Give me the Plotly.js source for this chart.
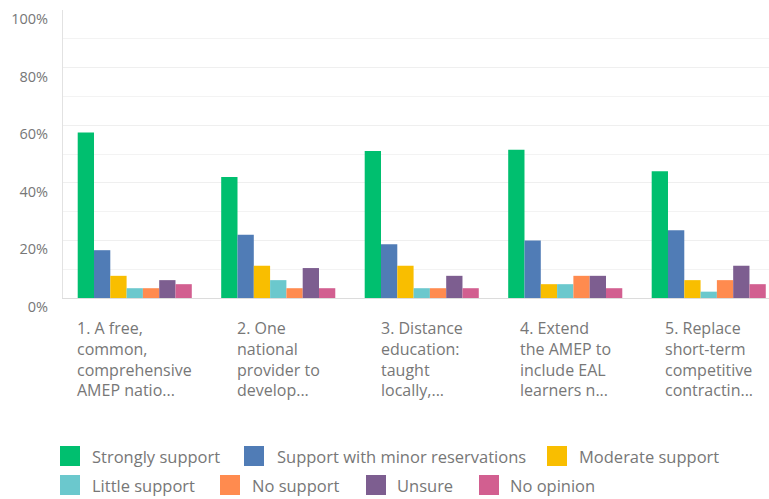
<!DOCTYPE html>
<html>
<head>
<meta charset="utf-8">
<script src="https://cdn.plot.ly/plotly-3.0.1.min.js"></script>
<style>html,body{margin:0;padding:0;background:#fff;}#chart{width:769px;height:499px;}</style>
</head>
<body>
<div id="chart"></div>
<script>
// ---- data ----
const categories = [
  "1. A free,<br>common,<br>comprehensive<br>AMEP natio...",
  "2. One<br>national<br>provider to<br>develop...",
  "3. Distance<br>education:<br>taught<br>locally,...",
  "4. Extend<br>the AMEP to<br>include EAL<br>learners n...",
  "5. Replace<br>short-term<br>competitive<br>contractin..."
];
const seriesNames = ["Strongly support", "Support with minor reservations", "Moderate support",
                     "Little support", "No support", "Unsure", "No opinion"];
const stronglySupport = [57.5, 42.0, 51.0, 51.5, 44.0];
const minorReservations = [16.6, 22.0, 18.7, 20.0, 23.5];
const moderateSupport = [7.7, 11.2, 11.2, 4.8, 6.2];
const littleSupport = [3.4, 6.2, 3.4, 4.8, 2.2];
const noSupport = [3.4, 3.4, 3.4, 7.7, 6.2];
const unsure = [6.2, 10.4, 7.7, 7.7, 11.2];
const noOpinion = [4.8, 3.4, 3.4, 3.4, 4.8];
const yTickVals = [0, 20, 40, 60, 80, 100];

// ---- style ----
const colors = ["#00BF6F", "#507CB6", "#F9BE00", "#6BC8CD", "#FF8B4F", "#7D5E90", "#D25F90"];
const allValues = [stronglySupport, minorReservations, moderateSupport, littleSupport, noSupport, unsure, noOpinion];
const textColor = "#777777";
const FONT = "'Open Sans', Lato, sans-serif";

const traces = seriesNames.map((name, i) => ({
  type: "bar",
  name: name,
  x: categories.map((c, k) => k),
  y: allValues[i],
  marker: {color: colors[i], line: {width: 0}},
  showlegend: false,
  hoverinfo: "name+y"
}));

// plot geometry (pixels)
const L = 63, T = 10, W = 769, H = 499, B = 201;
const PW = W - L, PH = H - T - B;
const px = x => (x - L) / PW;
const py = y => (T + PH - y) / PH;

// category labels: left-aligned blocks centred under each group
const annotations = categories.map((txt, k) => ({
  xref: "x", yref: "paper", x: k, y: 0,
  xanchor: "center", yanchor: "top", align: "left",
  yshift: -17, showarrow: false, text: txt,
  font: {family: FONT, size: 16, color: textColor}
}));

// manual legend (swatch x, text x, series index)
const legendRows = [
  {y: 456, items: [[60, 90, 0], [244, 275, 1], [547, 577, 2]]},
  {y: 485, items: [[60, 90, 3], [220, 250, 4], [366, 395, 5], [479, 508, 6]]}
];
const shapes = [];
legendRows.forEach(row => {
  row.items.forEach(([sx, tx, idx]) => {
    shapes.push({
      type: "rect", xref: "paper", yref: "paper",
      x0: px(sx), x1: px(sx + 20), y0: py(row.y + 10), y1: py(row.y - 10),
      fillcolor: colors[idx], line: {width: 0}
    });
    annotations.push({
      xref: "paper", yref: "paper", x: px(tx), y: py(row.y),
      xanchor: "left", yanchor: "middle", showarrow: false,
      text: seriesNames[idx], font: {family: FONT, size: 16.5, color: textColor}
    });
  });
});

const layout = {
  width: W, height: H,
  margin: {l: L, r: 0, t: T, b: B, pad: 0},
  paper_bgcolor: "#fff", plot_bgcolor: "#fff",
  barmode: "group", bargap: 0.205, bargroupgap: 0,
  font: {family: FONT, color: textColor},
  xaxis: {
    range: [-0.5, 4.42], showticklabels: false, ticks: "", showgrid: false,
    zeroline: false, showline: true, linecolor: "#dcdcdc", linewidth: 1, fixedrange: true
  },
  yaxis: {
    range: [0, 100], tickvals: yTickVals, ticktext: yTickVals.map(v => v + "%"),
    showgrid: true, gridcolor: "#efefef", gridwidth: 1,
    minor: {dtick: 10, showgrid: true, gridcolor: "#f3f3f3", ticks: ""},
    zeroline: false, showline: true, linecolor: "#e2e2e2", linewidth: 1,
    ticks: "", ticklabelshift: 9, ticklabelstandoff: 11,
    tickfont: {family: FONT, size: 14.5, color: textColor}, fixedrange: true
  },
  shapes: shapes,
  annotations: annotations
};

Plotly.newPlot("chart", traces, layout, {displayModeBar: false, staticPlot: true});
</script>
</body>
</html>
